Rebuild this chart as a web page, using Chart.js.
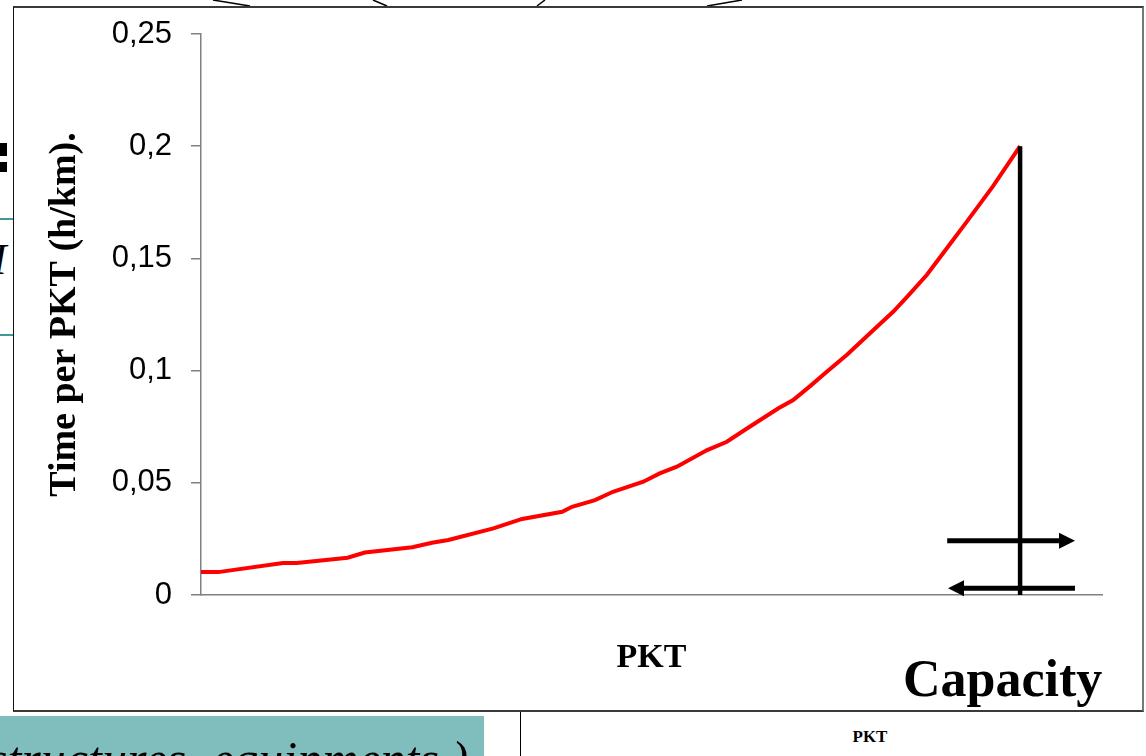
<!DOCTYPE html>
<html><head><meta charset="utf-8">
<script src="https://cdn.jsdelivr.net/npm/chart.js@4/dist/chart.umd.min.js"></script>
<style>
html,body{margin:0;padding:0;width:1146px;height:756px;overflow:hidden;background:#fff;}
#wrap{position:relative;width:1146px;height:756px;overflow:hidden;}
#frame{position:absolute;left:13px;top:6px;width:1131px;height:706px;box-sizing:border-box;
  border-top:2px solid #3a3a3a;border-bottom:2px solid #3a3a3a;border-left:1px solid #111;border-right:2px solid #777;}
#c{position:absolute;left:0;top:0;}
.deco{position:absolute;}
#teal{left:0;top:716px;width:484px;height:40px;background:#80bebe;overflow:hidden;}
#teal span{position:absolute;left:-12px;top:18px;font:italic 50px/50px "Liberation Serif","Times New Roman",serif;color:#000;white-space:nowrap;}
#cap{left:903px;top:653px;font:bold 52px/52px "Liberation Serif","Times New Roman",serif;color:#000;white-space:nowrap;}
#pktsmall{left:850px;top:727px;width:40px;text-align:center;font:bold 17px/20px "Liberation Serif","Times New Roman",serif;color:#000;}
#ital{left:-8px;top:238px;font:italic 44px/44px "Liberation Serif","Times New Roman",serif;color:#000;}
</style></head>
<body>
<div id="wrap">
  <svg class="deco" style="left:0;top:0" width="1146" height="756">
    <line x1="213" y1="0" x2="250" y2="6" stroke="#000" stroke-width="1.5"/>
    <line x1="373" y1="0" x2="387" y2="6" stroke="#000" stroke-width="1.5"/>
    <line x1="545" y1="0" x2="537" y2="6" stroke="#000" stroke-width="1.5"/>
    <line x1="742" y1="0" x2="707" y2="6" stroke="#000" stroke-width="1.5"/>
    <line x1="0" y1="219" x2="13" y2="219" stroke="#3a9a9a" stroke-width="2"/>
    <line x1="0" y1="335" x2="13" y2="335" stroke="#3a9a9a" stroke-width="2"/>
    <rect x="0" y="143" width="7" height="13" fill="#000"/>
    <rect x="0" y="162" width="7" height="10" fill="#000"/>
    <line x1="520.5" y1="712" x2="520.5" y2="756" stroke="#000" stroke-width="1"/>
  </svg>
  <div class="deco" id="ital">I</div>
  <div id="frame"></div>
  <div class="deco" id="teal"><span>structures, equipments.)</span></div>
  <div class="deco" id="pktsmall">PKT</div>
  <canvas id="c" width="1146" height="756"></canvas>
  <div class="deco" id="cap">Capacity</div>
</div>
<script>
// ---- data ----
const pkt = [0, 2.1, 10.0, 11.7, 17.9, 20.0, 25.8, 28.2, 30.2, 35.7, 39.2, 44.1, 45.3, 48.1, 50.3, 54.0, 56.0, 58.1, 61.8, 64.2, 66.7, 70.5, 72.3, 74.4, 76.4, 78.9, 82.1, 84.5, 86.2, 88.6, 90.6, 93.5, 96.7, 100];
const timePerPkt = [0.0102, 0.0102, 0.0143, 0.0143, 0.0166, 0.0189, 0.0213, 0.0233, 0.0245, 0.0297, 0.0339, 0.0371, 0.0393, 0.0423, 0.0460, 0.0505, 0.0542, 0.0572, 0.0646, 0.0683, 0.0743, 0.0832, 0.0869, 0.0932, 0.0995, 0.1072, 0.1181, 0.1262, 0.1329, 0.1426, 0.1523, 0.1664, 0.1822, 0.2000];
const capacityPkt = 100;
const capacityTime = 0.2;
const arrowFrom = [91.1, 106.7];
const arrowTo = [106.7, 91.2];
const arrowY = [0.0242, 0.0030];
const yTickValues = [0, 0.05, 0.1, 0.15, 0.2, 0.25];
const yTickLabels = ['0', '0,05', '0,1', '0,15', '0,2', '0,25'];
const xMin = 0, xMax = 110;

const curve = pkt.map((p, i) => ({x: p, y: timePerPkt[i]}));
const capLine = [{x: capacityPkt, y: 0}, {x: capacityPkt, y: capacityTime}];

const arrowPlugin = {
  id: 'arrows',
  afterDatasetsDraw(chart) {
    const {ctx, scales: {x, y}} = chart;
    ctx.save();
    ctx.strokeStyle = '#000';
    ctx.fillStyle = '#000';
    ctx.lineWidth = 5;
    arrowFrom.forEach((f, i) => {
      const x0 = x.getPixelForValue(f), x1 = x.getPixelForValue(arrowTo[i]), yy = y.getPixelForValue(arrowY[i]);
      const dir = Math.sign(x1 - x0), head = 16, half = 8;
      ctx.beginPath(); ctx.moveTo(x0, yy); ctx.lineTo(x1 - dir * head, yy); ctx.stroke();
      ctx.beginPath(); ctx.moveTo(x1, yy); ctx.lineTo(x1 - dir * head, yy - half); ctx.lineTo(x1 - dir * head, yy + half); ctx.closePath(); ctx.fill();
    });
    ctx.restore();
  }
};

new Chart(document.getElementById('c'), {
  type: 'line',
  data: {
    datasets: [
      {data: capLine, borderColor: '#000', borderWidth: 4.5, pointRadius: 0, tension: 0, fill: false},
      {data: curve, borderColor: '#ff0000', borderWidth: 4, pointRadius: 0, tension: 0, fill: false}
    ]
  },
  options: {
    responsive: false,
    animation: false,
    devicePixelRatio: 1,
    layout: {padding: {left: 0, top: 34, right: 44, bottom: 77}},
    plugins: {legend: {display: false}, tooltip: {enabled: false}},
    scales: {
      x: {
        type: 'linear', min: xMin, max: xMax,
        ticks: {display: false},
        grid: {display: false, drawTicks: false},
        border: {display: true, color: '#808080', width: 1.5},
        title: {display: true, text: 'PKT', color: '#000',
          font: {family: '"Liberation Serif", "Times New Roman", serif', size: 34, weight: 'bold'},
          padding: {top: 0, bottom: 0}},
        afterFit: s => { s.height = 84; s.paddingLeft = 0; s.paddingRight = 0; }
      },
      y: {
        min: 0, max: 0.25,
        afterBuildTicks: s => { s.ticks = yTickValues.map(v => ({value: v})); },
        ticks: {callback: (v, i) => yTickLabels[i], color: '#000', padding: 19,
          font: {family: '"Liberation Sans", Arial, sans-serif', size: 31}},
        grid: {display: true, drawOnChartArea: false, drawTicks: true, tickLength: 10, color: '#808080', lineWidth: 1.5},
        border: {display: true, color: '#808080', width: 1.5},
        title: {display: true, text: 'Time per PKT (h/km).', color: '#000',
          font: {family: '"Liberation Serif", "Times New Roman", serif', size: 38, weight: 'bold'},
          padding: {top: 42, bottom: 0}},
        afterFit: s => { s.width = 201; s.paddingTop = 0; s.paddingBottom = 0; }
      }
    }
  },
  plugins: [arrowPlugin]
});
</script>
</body></html>
